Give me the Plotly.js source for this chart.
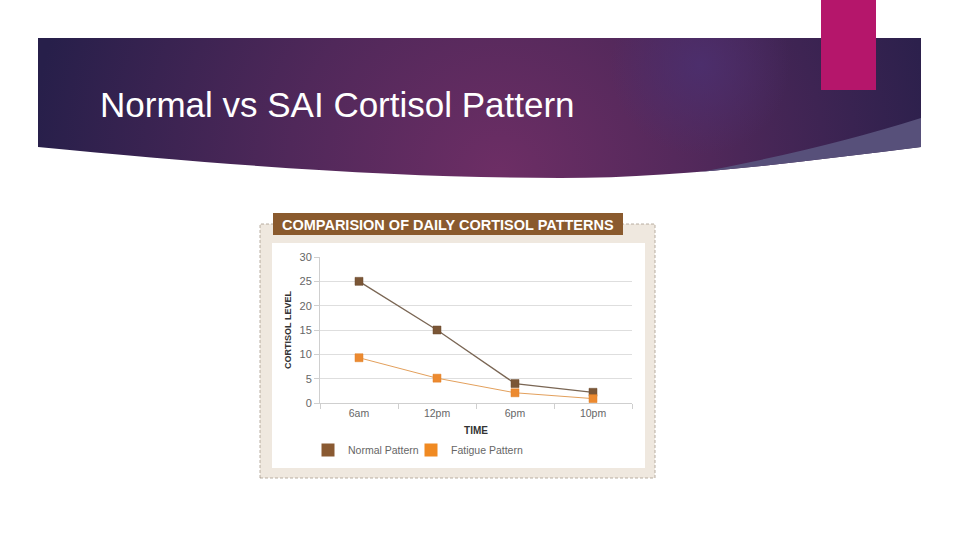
<!DOCTYPE html>
<html>
<head>
<meta charset="utf-8">
<script src="https://cdn.plot.ly/plotly-3.0.1.min.js"></script>
<style>
  html, body { margin: 0; padding: 0; background: #ffffff; }
  #slide { position: relative; width: 960px; height: 540px; overflow: hidden; background: #ffffff; }
  #deco { position: absolute; left: 0; top: 0; }
  #chart { position: absolute; left: 0; top: 0; width: 960px; height: 540px; }
</style>
</head>
<body>
<div id="slide">
  <svg id="deco" width="960" height="540" viewBox="0 0 960 540">
    <defs>
      <radialGradient id="bannerGrad" gradientUnits="userSpaceOnUse" cx="500" cy="175" r="470" fx="500" fy="175">
        <stop offset="0" stop-color="#6d2e65"/>
        <stop offset="0.45" stop-color="#50285a"/>
        <stop offset="1" stop-color="#271f4a"/>
      </radialGradient>
      <radialGradient id="glow" gradientUnits="userSpaceOnUse" cx="700" cy="65" r="90">
        <stop offset="0" stop-color="#4c2f6e" stop-opacity="0.9"/>
        <stop offset="1" stop-color="#4c2f6e" stop-opacity="0"/>
      </radialGradient>
      <clipPath id="bannerClip">
        <path d="M38,38 L921,38 L921,147 C800,162 680,178 560,178 C420,178 250,168 38,147 Z"/>
      </clipPath>
    </defs>
    <g clip-path="url(#bannerClip)">
      <rect x="30" y="30" width="900" height="160" fill="url(#bannerGrad)"/>
      <rect x="30" y="30" width="900" height="160" fill="url(#glow)"/>
      <path d="M690,174 Q820,150 921,118 L921,200 L690,200 Z" fill="#57507a"/>
    </g>
    <rect x="821" y="0" width="55" height="90" fill="#b5166b"/>
  </svg>
  <div id="chart"></div>
</div>
<script>
// ---- data ----
const times = ["6am", "12pm", "6pm", "10pm"];
const normalPattern = [25, 15, 4, 2.2];
const fatiguePattern = [9.3, 5.1, 2.1, 0.9];
const seriesNames = ["Normal Pattern", "Fatigue Pattern"];
const yTicks = [0, 5, 10, 15, 20, 25, 30];
const slideTitle = "Normal vs SAI Cortisol Pattern";
const chartTitle = "COMPARISION OF DAILY CORTISOL PATTERNS";
const yTitle = "CORTISOL LEVEL";
const xTitle = "TIME";

// ---- geometry helpers (pixel -> paper) ----
const L = 320, R = 632, T = 257, B = 403;
const px = x => (x - L) / (R - L);
const py = y => (B - y) / (B - T);

const normalMarker = "#7b5636", normalLine = "#7a6654";
const fatigueMarker = "#ec8a30", fatigueLine = "#e3a05c";

const traces = [
  {
    x: times, y: normalPattern, name: seriesNames[0], type: "scatter", mode: "lines+markers",
    line: {color: normalLine, width: 1.3},
    marker: {symbol: "square", size: 8, color: normalMarker, line: {color: "#6a4a2e", width: 0.5}},
    showlegend: false
  },
  {
    x: times, y: fatiguePattern, name: seriesNames[1], type: "scatter", mode: "lines+markers",
    line: {color: fatigueLine, width: 1},
    marker: {symbol: "square", size: 8, color: fatigueMarker, line: {color: "#e07f25", width: 0.5}},
    showlegend: false
  },
  {
    x: [null], y: [null], name: seriesNames[0], type: "scatter", mode: "markers",
    marker: {symbol: "square", size: 13, color: "#8a5a32"}, showlegend: true, legend: "legend"
  },
  {
    x: [null], y: [null], name: seriesNames[1], type: "scatter", mode: "markers",
    marker: {symbol: "square", size: 13, color: "#f08a22"}, showlegend: true, legend: "legend2"
  }
];

const legendBase = {
  orientation: "h",
  xanchor: "left",
  y: py(450), yanchor: "middle",
  bgcolor: "rgba(0,0,0,0)",
  font: {size: 10.5, color: "#666666"}
};

const layout = {
  width: 960, height: 540,
  margin: {l: L, r: 960 - R, t: T, b: 540 - B, pad: 0},
  paper_bgcolor: "rgba(0,0,0,0)",
  plot_bgcolor: "#ffffff",
  font: {family: "Liberation Sans, Arial, sans-serif", color: "#666666", size: 11},
  title: {
    text: slideTitle,
    font: {family: "Liberation Sans, Arial, sans-serif", size: 35, color: "#ffffff"},
    xref: "container", yref: "container",
    x: 100 / 960, xanchor: "left",
    y: 1 - 105 / 540, yanchor: "middle"
  },
  xaxis: {
    type: "category",
    categoryarray: times,
    range: [-0.5, 3.5],
    showline: true, linecolor: "#cfcfcf", linewidth: 1,
    ticks: "outside", tickson: "boundaries", ticklen: 5, tickcolor: "#cfcfcf",
    showgrid: false, zeroline: false,
    tickfont: {size: 10.5, color: "#666666"},
    title: {text: xTitle, standoff: 9, font: {family: "Liberation Sans, Arial, sans-serif", size: 10, color: "#333333", weight: "bold"}},
    fixedrange: true
  },
  yaxis: {
    range: [0, 30],
    tickvals: yTicks,
    showline: true, linecolor: "#cfcfcf", linewidth: 1,
    ticks: "outside", ticklen: 5, tickcolor: "#cfcfcf",
    showgrid: true, gridcolor: "#dedede", gridwidth: 1,
    zeroline: false,
    tickfont: {size: 11, color: "#666666"},
    title: {text: yTitle, standoff: 6, font: {family: "Liberation Sans Narrow, Liberation Sans, Arial, sans-serif", size: 9, color: "#333333", weight: "bold"}},
    fixedrange: true
  },
  legend: Object.assign({}, legendBase, {x: px(308)}),
  legend2: Object.assign({}, legendBase, {x: px(411)}),
  shapes: [
    {type: "rect", xref: "paper", yref: "paper", layer: "below",
     x0: px(260), x1: px(655), y0: py(478), y1: py(224),
     fillcolor: "#efe8df", line: {color: "#a89c8e", width: 0.8, dash: "3px,2px"}},
    {type: "rect", xref: "paper", yref: "paper", layer: "below",
     x0: px(272), x1: px(645), y0: py(468), y1: py(243),
     fillcolor: "#ffffff", line: {width: 0}},
    {type: "rect", xref: "paper", yref: "paper", layer: "below",
     x0: px(273), x1: px(623), y0: py(235), y1: py(213),
     fillcolor: "#8a5a2e", line: {width: 0}}
  ],
  annotations: [
    {text: chartTitle, xref: "paper", yref: "paper", x: px(448), y: py(224.5),
     xanchor: "center", yanchor: "middle", showarrow: false,
     font: {family: "Liberation Sans, Arial, sans-serif", size: 14.5, color: "#ffffff", weight: "bold"}}
  ]
};

Plotly.newPlot("chart", traces, layout, {staticPlot: true, displayModeBar: false});
</script>
</body>
</html>
